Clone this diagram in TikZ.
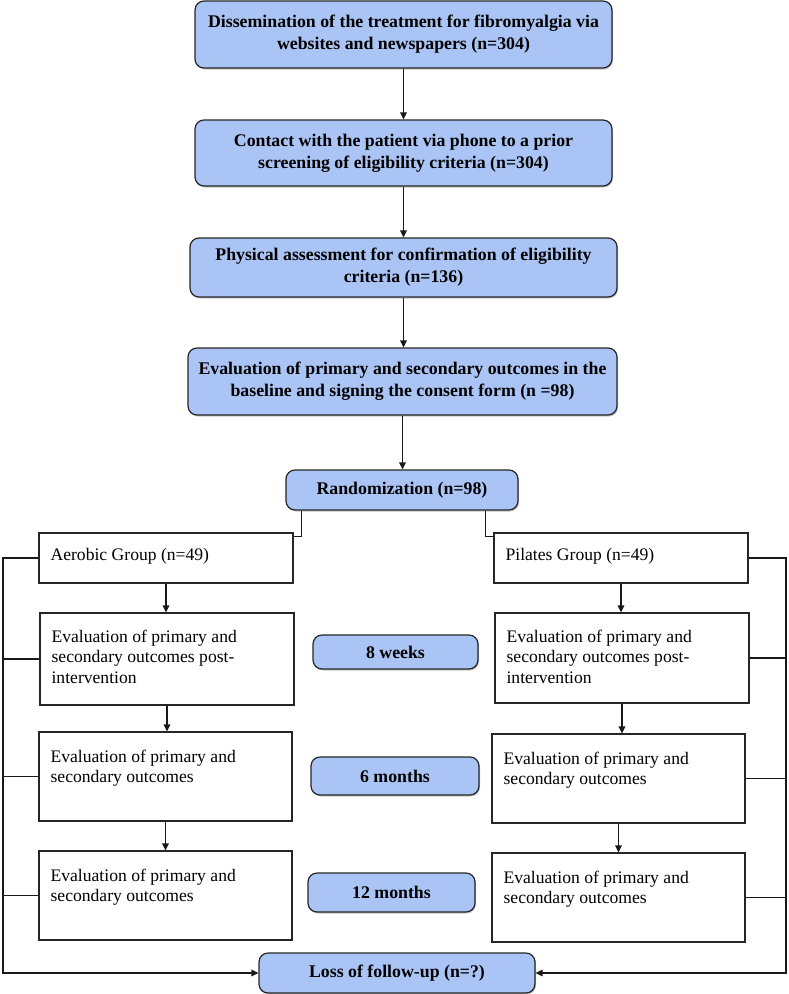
\documentclass[tikz,border=0pt]{standalone}
\usepackage{fontspec}
\setmainfont{Liberation Serif}
\usetikzlibrary{arrows.meta,shadows}
\definecolor{boxblue}{RGB}{170,196,245}
\begin{document}
\begin{tikzpicture}[x=1pt,y=-1pt,
  bluebox/.style={draw=black!85, line width=1.2pt, fill=boxblue, rounded corners=9pt,
    font=\fontsize{17.8}{22}\selectfont\bfseries, align=center, inner sep=0pt,
    drop shadow={shadow xshift=1pt, shadow yshift=-1.5pt, fill=black!45}},
  whitebox/.style={draw=black!85, line width=1.2pt, fill=white, inner sep=0pt},
  wtext/.style={font=\fontsize{17.6}{20.8}\selectfont, align=left, inner sep=0pt, anchor=north west},
  conn/.style={line width=1.3pt, draw=black!90},
  arr/.style={conn, -{Triangle[length=7pt,width=6.5pt]}}]
\useasboundingbox (0,0) rectangle (788,994);

% top chain
\node[bluebox, minimum width=417pt, minimum height=67pt] (B1) at (403.5,34.5)
  {Dissemination of the treatment for fibromyalgia via\\websites and newspapers (n=304)};
\node[bluebox, minimum width=417pt, minimum height=66pt] (B2) at (403.5,153)
  {Contact with the patient via phone to a prior\\screening of eligibility criteria (n=304)};
\node[bluebox, minimum width=427pt, minimum height=59pt] (B3) at (403.5,267.5)
  {Physical assessment for confirmation of eligibility\\criteria (n=136)};
\node[bluebox, minimum width=429pt, minimum height=67pt] (B4) at (402.5,381.5)
  {Evaluation of primary and secondary outcomes in the\\baseline and signing the consent form (n =98)};
\node[bluebox, minimum width=232pt, minimum height=40pt] (R) at (402,490)
  {Randomization (n=98)};

% groups
\node[whitebox, minimum width=254pt, minimum height=50pt] (AG) at (166,558) {};
\node[wtext] (AGt) at ([xshift=12pt,yshift=-16pt]AG.north west) {Aerobic Group (n=49)};
\node[whitebox, minimum width=254pt, minimum height=50pt] (PG) at (621,558) {};
\node[wtext] (PGt) at ([xshift=12pt,yshift=-16pt]PG.north west) {Pilates Group (n=49)};

\node[whitebox, minimum width=254pt, minimum height=92pt] (A1) at (167,659) {};
\node[wtext] (A1t) at ([xshift=12pt,yshift=-17pt]A1.north west)
  {Evaluation of primary and\\secondary outcomes post-\\intervention};
\node[whitebox, minimum width=254pt, minimum height=90pt] (P1) at (622,658) {};
\node[wtext] (P1t) at ([xshift=12pt,yshift=-17pt]P1.north west)
  {Evaluation of primary and\\secondary outcomes post-\\intervention};

\node[whitebox, minimum width=253pt, minimum height=89pt] (A2) at (165.5,776.5) {};
\node[wtext] (A2t) at ([xshift=12pt,yshift=-18pt]A2.north west)
  {Evaluation of primary and\\secondary outcomes};
\node[whitebox, minimum width=253pt, minimum height=89pt] (P2) at (618.5,778.5) {};
\node[wtext] (P2t) at ([xshift=12pt,yshift=-18pt]P2.north west)
  {Evaluation of primary and\\secondary outcomes};

\node[whitebox, minimum width=253pt, minimum height=89pt] (A3) at (165.5,895.5) {};
\node[wtext] (A3t) at ([xshift=12pt,yshift=-18pt]A3.north west)
  {Evaluation of primary and\\secondary outcomes};
\node[whitebox, minimum width=253pt, minimum height=89pt] (P3) at (618.5,897.5) {};
\node[wtext] (P3t) at ([xshift=12pt,yshift=-18pt]P3.north west)
  {Evaluation of primary and\\secondary outcomes};

% time labels
\node[bluebox, minimum width=165pt, minimum height=34pt] (W8) at (395.5,652) {8 weeks};
\node[bluebox, minimum width=168pt, minimum height=38pt] (M6) at (395,776) {6 months};
\node[bluebox, minimum width=167pt, minimum height=39pt] (M12) at (391.5,892.5) {12 months};

% loss
\node[bluebox, minimum width=276pt, minimum height=40pt] (L) at (397,973) {Loss of follow-up (n=?)};

% rails
\coordinate (lrail) at (3,0);
\coordinate (rrail) at (786,0);

% top arrows
\draw[arr] (B1.south) -- (B1.south |- B2.north);
\draw[arr] (B2.south) -- (B2.south |- B3.north);
\draw[arr] (B3.south) -- (B3.south |- B4.north);
\draw[arr] (B4.south) -- (B4.south |- R.north);

% randomization split
\draw[conn] ([xshift=16pt]R.south west) |- ([yshift=-4pt]AG.north east);
\draw[conn] ([xshift=-33pt]R.south east) |- ([yshift=-4pt]PG.north west);

% group chains
\draw[arr] (AG.south) -- (AG.south |- A1.north);
\draw[arr] (A1.south) -- (A1.south |- A2.north);
\draw[arr] (A2.south) -- (A2.south |- A3.north);
\draw[arr] (PG.south) -- (PG.south |- P1.north);
\draw[arr] (P1.south) -- (P1.south |- P2.north);
\draw[arr] (P2.south) -- (P2.south |- P3.north);

% loss rails
\draw[arr] (AG.west) -- (AG.west -| lrail) |- (L.west);
\draw[conn] (A1.west) -- (A1.west -| lrail);
\draw[conn] (A2.west) -- (A2.west -| lrail);
\draw[conn] (A3.west) -- (A3.west -| lrail);
\draw[arr] (PG.east) -- (PG.east -| rrail) |- (L.east);
\draw[conn] (P1.east) -- (P1.east -| rrail);
\draw[conn] (P2.east) -- (P2.east -| rrail);
\draw[conn] (P3.east) -- (P3.east -| rrail);
\end{tikzpicture}
\end{document}
